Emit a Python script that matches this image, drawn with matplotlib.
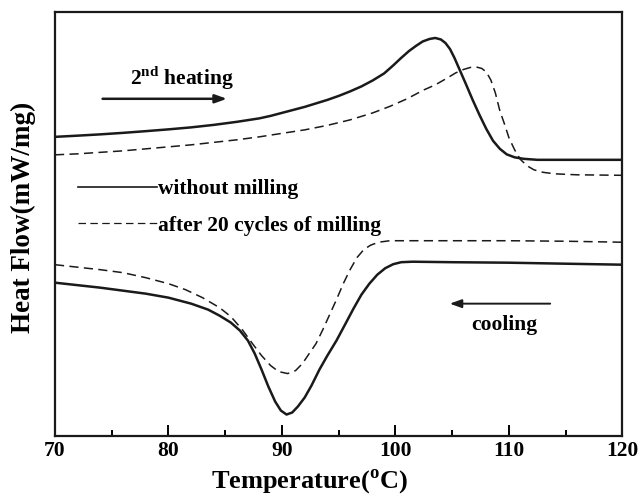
import matplotlib
matplotlib.use("Agg")
import matplotlib.pyplot as plt
from matplotlib.ticker import MultipleLocator

plt.rcParams['font.family'] = ['Liberation Serif', 'DejaVu Serif']
plt.rcParams['font.weight'] = 'bold'
plt.rcParams['mathtext.fontset'] = 'custom'
plt.rcParams['mathtext.rm'] = 'Liberation Serif:bold'
plt.rcParams['mathtext.bf'] = 'Liberation Serif:bold'

# heat flow in arbitrary units (curves are offset for clarity)

# 2nd heating, sample without milling
heat_raw_T = [70, 72, 74, 76, 78, 80, 82, 84, 86, 88, 89, 90, 91, 92, 93, 94, 95, 96,
              97, 98, 99, 99.8, 100.5, 101.2, 101.8, 102.4, 103, 103.5, 104, 104.4,
              104.8, 105.2, 105.7, 106.2, 106.8, 107.4, 108, 108.6, 109.2, 109.8,
              110.5, 111.3, 112.5, 120]
heat_raw_hf = [299, 300.2, 301.5, 303, 304.7, 306.5, 308.5, 311, 314, 317.5, 320, 323,
               326, 329, 332.5, 336, 340, 344.5, 349.5, 355.5, 362.5, 370.5, 378, 385,
               390, 394.5, 397, 398, 396.5, 393, 387, 378, 365, 352, 336, 321, 307, 295,
               287, 281.5, 278.5, 277, 276, 276]

# 2nd heating, after 20 milling cycles
heat_mill_T = [70, 72, 74, 76, 78, 80, 82, 84, 86, 88, 90, 92, 94, 96, 98, 99.5, 101,
               102.5, 103.5, 104.5, 105.3, 106, 106.6, 107.1, 107.6, 108, 108.4, 108.8,
               109.2, 109.6, 110, 110.5, 111, 111.6, 112.2, 113, 114, 116, 120]
heat_mill_hf = [281, 282, 283.5, 285, 287, 289, 291, 293.5, 296, 299, 302.5, 306, 310.5,
                316, 323, 329.5, 337, 346, 351, 357.5, 363, 366.5, 368.5, 369, 367.5,
                364, 356, 343, 325, 312, 298, 286, 276.5, 270, 266, 263.5, 262, 261,
                260.5]

# cooling, sample without milling
cool_raw_T = [70, 72, 74, 76, 78, 80, 82, 83.5, 84.5, 85.5, 86.3, 87, 87.6, 88.2, 88.8,
              89.4, 89.9, 90.4, 90.9, 91.4, 92, 92.6, 93.3, 94, 94.8, 95.6, 96.3, 97,
              97.7, 98.4, 99.1, 99.8, 100.5, 101.5, 105, 110, 115, 120]
cool_raw_hf = [153, 150.5, 148, 145, 142, 138, 132, 126, 120, 113, 105, 95, 82, 66, 49,
               34, 25, 21, 23, 29, 38, 50, 66, 80, 95, 112, 127, 141, 152, 161, 167.5,
               171.5, 173.5, 174, 173.5, 173, 172, 171]

# cooling, after 20 milling cycles
cool_mill_T = [70, 72, 74, 76, 78, 80, 81.5, 83, 84.5, 85.5, 86.5, 87.4, 88.2, 89, 89.7,
               90.5, 91.2, 91.8, 92.4, 93, 93.6, 94.2, 94.8, 95.4, 96, 96.6, 97.2, 97.8,
               98.5, 99.5, 105, 110, 115, 120]
cool_mill_hf = [171, 168.5, 166, 163, 158, 152, 146, 138, 128, 119, 106, 92, 80, 70, 64,
                62, 65, 72, 82, 92, 106, 121, 136, 152, 166, 178, 186, 190.5, 193.5,
                195, 195, 195, 194.5, 193.5]

fig = plt.figure(figsize=(6.4, 4.98), dpi=100)
ax = fig.add_axes([0.0859, 0.1255, 0.8867, 0.8494])

solid = dict(color='#1a1a1a', lw=1.8, ls='-')
dashed = dict(color='#1a1a1a', lw=1.1, ls=(0, (6, 3.5)))

ax.plot(heat_raw_T, heat_raw_hf, label='without milling', **solid)
ax.plot(heat_mill_T, heat_mill_hf, label='after 20 cycles of milling', **dashed)
ax.plot(cool_raw_T, cool_raw_hf, **solid)
ax.plot(cool_mill_T, cool_mill_hf, **dashed)

ax.set_xlim(70, 120)
ax.set_ylim(0, 423.5)
ax.set_yticks([])
ax.xaxis.set_major_locator(MultipleLocator(10))
ax.xaxis.set_minor_locator(MultipleLocator(5))
ax.tick_params(axis='x', which='major', direction='in', length=8, width=1.4,
               labelsize=15.5, pad=4)
ax.tick_params(axis='x', which='minor', direction='in', length=4, width=1.4)
for sp in ax.spines.values():
    sp.set_linewidth(1.6)
    sp.set_color('#1a1a1a')

ax.set_xlabel('Temperature($^{\\mathbf{o}}$C)', fontsize=19, fontweight='bold')
ax.set_ylabel('Heat Flow(mW/mg)', fontsize=19.5, fontweight='bold')
ax.xaxis.set_label_coords(0.449, -0.075)
ax.yaxis.set_label_coords(-0.033, 0.515)

leg = ax.legend(loc='center left', bbox_to_anchor=(0.04, 0.539), frameon=False,
                fontsize=15.5, handlelength=3.7, handletextpad=0.05,
                borderpad=0, borderaxespad=0, labelspacing=0.75)
for h in leg.get_lines():
    h.set_linewidth(1.2 if h.get_linestyle() == '-' else 0.9)

# direction arrows
ax.annotate('', xy=(0.308, 0.796), xytext=(0.079, 0.796), xycoords='axes fraction',
            arrowprops=dict(arrowstyle='-|>,head_length=0.7,head_width=0.25',
                            color='#1a1a1a', lw=1.8))
ax.text(0.132, 0.829, '2$^{\\mathrm{nd}}$ heating', transform=ax.transAxes,
        fontsize=15.5, fontweight='bold', ha='left', va='baseline')

ax.annotate('', xy=(0.6907, 0.3117), xytext=(0.8775, 0.3117), xycoords='axes fraction',
            arrowprops=dict(arrowstyle='-|>,head_length=0.7,head_width=0.25',
                            color='#1a1a1a', lw=1.4))
ax.text(0.791, 0.262, 'cooling', transform=ax.transAxes,
        fontsize=15.5, fontweight='bold', ha='center', va='center')

fig.savefig('out.png', dpi=100)
